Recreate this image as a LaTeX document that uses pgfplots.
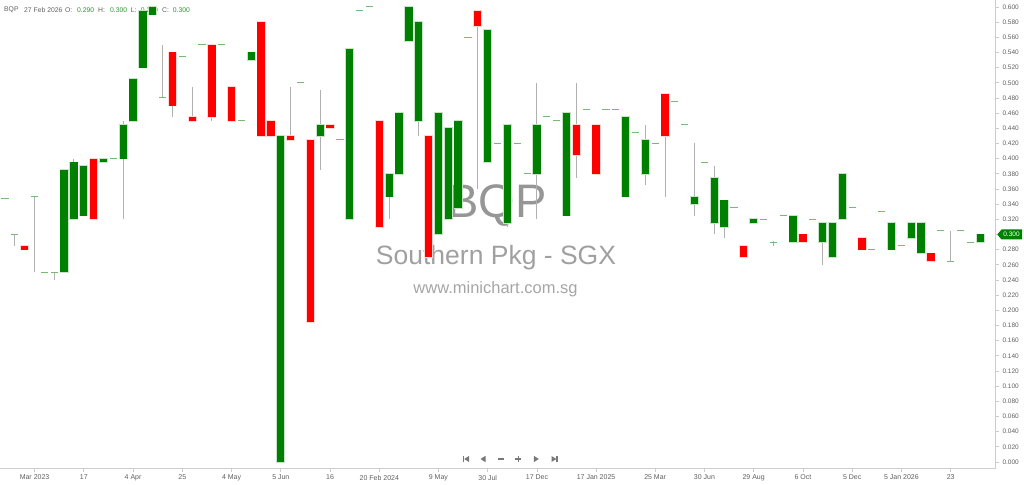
\documentclass[border=0pt]{standalone}
\usepackage{fontspec}
\setmainfont{Liberation Sans}
\usepackage{pgfplots}
\usepackage{pgfplotstable}
\pgfplotsset{compat=1.18}
\definecolor{upgreen}{RGB}{0,128,0}
\definecolor{upedge}{RGB}{200,228,200}
\definecolor{downred}{RGB}{255,0,0}
\definecolor{downedge}{RGB}{255,215,215}
\definecolor{wickgray}{RGB}{176,176,176}
\definecolor{dojigreen}{RGB}{120,185,120}
\definecolor{valgreen}{RGB}{40,150,40}
\definecolor{labgray}{RGB}{95,95,95}
\definecolor{axgray}{RGB}{205,205,205}
\definecolor{wm1}{RGB}{150,150,150}
\definecolor{wm2}{RGB}{160,160,160}
\definecolor{wm3}{RGB}{165,165,165}
\definecolor{navgray}{RGB}{120,120,120}

\pgfplotstableread{
i o h l c
6 0.25 0.385 0.25 0.385
7 0.32 0.40 0.32 0.395
8 0.325 0.39 0.325 0.39
10 0.395 0.40 0.395 0.40
12 0.40 0.45 0.32 0.445
13 0.45 0.505 0.45 0.505
14 0.52 0.595 0.52 0.595
15 0.59 0.60 0.59 0.60
25 0.53 0.54 0.53 0.54
28 0.0 0.43 0.0 0.43
32 0.43 0.49 0.385 0.445
35 0.32 0.545 0.32 0.545
39 0.35 0.38 0.32 0.38
40 0.38 0.46 0.38 0.46
41 0.555 0.60 0.555 0.60
42 0.45 0.58 0.43 0.58
44 0.30 0.46 0.30 0.46
45 0.32 0.44 0.32 0.44
46 0.335 0.45 0.335 0.45
49 0.395 0.57 0.395 0.57
51 0.315 0.445 0.31 0.445
54 0.38 0.50 0.32 0.445
57 0.325 0.46 0.325 0.46
63 0.35 0.455 0.35 0.455
65 0.38 0.445 0.365 0.425
70 0.34 0.42 0.325 0.35
72 0.315 0.39 0.30 0.375
73 0.31 0.345 0.295 0.345
76 0.315 0.32 0.315 0.32
80 0.29 0.325 0.29 0.325
83 0.29 0.315 0.26 0.315
84 0.27 0.315 0.27 0.315
85 0.32 0.38 0.32 0.38
90 0.28 0.315 0.28 0.315
92 0.295 0.315 0.295 0.315
93 0.275 0.315 0.275 0.315
99 0.29 0.30 0.29 0.30
}\up

\pgfplotstableread{
i o h l c
2 0.285 0.285 0.28 0.28
9 0.40 0.40 0.32 0.32
17 0.54 0.54 0.455 0.47
19 0.455 0.495 0.45 0.45
21 0.55 0.55 0.45 0.455
23 0.495 0.495 0.45 0.45
26 0.58 0.58 0.43 0.43
27 0.45 0.45 0.43 0.43
29 0.43 0.495 0.425 0.425
31 0.425 0.425 0.185 0.185
33 0.445 0.445 0.44 0.44
38 0.45 0.45 0.31 0.31
43 0.43 0.43 0.27 0.27
48 0.595 0.595 0.36 0.575
58 0.445 0.50 0.375 0.405
60 0.445 0.445 0.38 0.38
67 0.485 0.485 0.35 0.43
75 0.285 0.285 0.27 0.27
81 0.30 0.30 0.29 0.29
87 0.295 0.295 0.28 0.28
94 0.275 0.275 0.265 0.265
}\down

\pgfplotstableread{
i o h l c
0 0.348 0.348 0.348 0.348
1 0.30 0.30 0.285 0.30
3 0.35 0.35 0.25 0.35
4 0.25 0.25 0.25 0.25
5 0.25 0.25 0.24 0.25
11 0.40 0.40 0.40 0.40
16 0.48 0.55 0.48 0.48
18 0.535 0.535 0.535 0.535
20 0.55 0.55 0.55 0.55
22 0.55 0.55 0.55 0.55
24 0.45 0.45 0.45 0.45
30 0.50 0.50 0.50 0.50
34 0.425 0.425 0.425 0.425
36 0.595 0.595 0.595 0.595
37 0.60 0.60 0.60 0.60
47 0.56 0.56 0.56 0.56
50 0.42 0.42 0.42 0.42
52 0.42 0.42 0.42 0.42
53 0.38 0.38 0.38 0.38
55 0.455 0.455 0.455 0.455
56 0.45 0.45 0.45 0.45
59 0.465 0.465 0.465 0.465
61 0.465 0.465 0.465 0.465
62 0.465 0.465 0.465 0.465
64 0.435 0.435 0.435 0.435
66 0.42 0.42 0.42 0.42
68 0.475 0.475 0.475 0.475
69 0.445 0.445 0.445 0.445
71 0.395 0.395 0.395 0.395
74 0.335 0.335 0.335 0.335
77 0.32 0.32 0.32 0.32
78 0.29 0.292 0.285 0.29
79 0.325 0.325 0.325 0.325
82 0.32 0.32 0.32 0.32
86 0.335 0.335 0.335 0.335
88 0.28 0.28 0.28 0.28
89 0.33 0.33 0.33 0.33
91 0.285 0.285 0.285 0.285
95 0.305 0.305 0.305 0.305
96 0.265 0.305 0.265 0.265
97 0.305 0.305 0.305 0.305
98 0.29 0.29 0.29 0.29
}\flat

\pgfplotsset{
  wick/.style={draw=none, mark=none, forget plot,
    error bars/y dir=both, error bars/y explicit, error bars/error mark=none,
    error bars/error bar style={line width=1pt, draw=wickgray, solid}},
  body/.style 2 args={draw=none, mark=none, forget plot,
    error bars/y dir=both, error bars/y explicit, error bars/error mark=none,
    error bars/error bar style={line width=#2, draw=#1, solid, line cap=butt}},
}

\begin{document}
\begin{tikzpicture}
\path[use as bounding box] (0,0) rectangle (1024pt,484pt);
% watermark (behind candles)
\node[anchor=base, text=wm1, inner sep=0pt, font=\fontsize{47}{47}\selectfont] at (497pt,266pt) {BQP};
\node[anchor=base, text=wm2, inner sep=0pt, font=\fontsize{26.5}{26.5}\selectfont] at (496pt,219pt) {Southern Pkg - SGX};
\node[anchor=base, text=wm3, inner sep=0pt, font=\fontsize{16.5}{16.5}\selectfont] at (495.5pt,190.5pt) {www.minichart.com.sg};
% header
\begin{scope}[every node/.style={anchor=west, inner sep=0pt, font=\fontsize{6.8}{7}\selectfont}]
\node[text=labgray] at (4pt,474pt) {BQP};
\node[text=labgray] at (24pt,474pt) {27 Feb 2026};
\node[text=labgray] at (65pt,474pt) {O:};
\node[text=valgreen] at (77pt,474pt) {0.290};
\node[text=labgray] at (98pt,474pt) {H:};
\node[text=valgreen] at (110pt,474pt) {0.300};
\node[text=labgray] at (130.7pt,474pt) {L:};
\node[text=valgreen] at (140.7pt,474pt) {0.290};
\node[text=labgray] at (162pt,474pt) {C:};
\node[text=valgreen] at (172.7pt,474pt) {0.300};
\end{scope}
\begin{axis}[
  at={(0pt,16pt)}, anchor=south west,
  scale only axis, width=995.5pt, height=468pt,
  xmin=-0.5076, xmax=100.55,
  ymin=-0.0079, ymax=0.6092,
  axis x line*=bottom, axis y line*=right,
  axis line style={draw=axgray, line width=0.8pt},
  tick align=outside, major tick length=3.5pt,
  tick style={draw=axgray, line width=0.8pt},
  xtick={3,8,13,18,23,28,33,38,44,49,54,60,66,71,76,81,86,91,96},
  xticklabels={Mar 2023,17,4 Apr,25,4 May,5 Jun,16,20 Feb 2024,9 May,30 Jul,17 Dec,17 Jan 2025,25 Mar,30 Jun,29 Aug,6 Oct,5 Dec,5 Jan 2026,23},
  xticklabel style={font=\fontsize{7}{7}\selectfont, text=labgray},
  ytick={0,0.02,...,0.61},
  yticklabel style={font=\fontsize{6.5}{7}\selectfont, text=labgray,
    /pgf/number format/.cd, fixed, fixed zerofill, precision=3, assume math mode=true},
  scaled y ticks=false,
  clip=true,
]
% wicks
\addplot[wick] table[x=i, y expr={(\thisrow{h}+\thisrow{l})/2}, y error expr={(\thisrow{h}-\thisrow{l})/2}] {\flat};
\addplot[wick] table[x=i, y expr={(\thisrow{h}+\thisrow{l})/2}, y error expr={(\thisrow{h}-\thisrow{l})/2}] {\up};
\addplot[wick] table[x=i, y expr={(\thisrow{h}+\thisrow{l})/2}, y error expr={(\thisrow{h}-\thisrow{l})/2}] {\down};
% body edges
\addplot[body={upedge}{9pt}] table[x=i, y expr={(\thisrow{o}+\thisrow{c})/2}, y error expr={abs(\thisrow{c}-\thisrow{o})/2+0.0011}] {\up};
\addplot[body={downedge}{9pt}] table[x=i, y expr={(\thisrow{o}+\thisrow{c})/2}, y error expr={abs(\thisrow{c}-\thisrow{o})/2+0.0011}] {\down};
% bodies
\addplot[body={upgreen}{7.3pt}] table[x=i, y expr={(\thisrow{o}+\thisrow{c})/2}, y error expr={abs(\thisrow{c}-\thisrow{o})/2}] {\up};
\addplot[body={downred}{7.3pt}] table[x=i, y expr={(\thisrow{o}+\thisrow{c})/2}, y error expr={abs(\thisrow{c}-\thisrow{o})/2}] {\down};
% doji dashes
\addplot[only marks, mark=-, mark size=3.6pt, mark options={draw=dojigreen, line width=1pt}, forget plot] table[x=i, y=c] {\flat};
\end{axis}
% price tag
\fill[upgreen] (997.3pt,249.5pt) -- (1001.5pt,254.5pt) -- (1022pt,254.5pt) -- (1022pt,244.5pt) -- (1001.5pt,244.5pt) -- cycle;
\node[text=white, inner sep=0pt, font=\fontsize{6.5}{7}\selectfont] at (1011.5pt,249.5pt) {0.300};
% navigation icons
\begin{scope}[navgray]
\fill (463pt,22pt) rectangle (464.2pt,28pt);
\fill (464.2pt,25pt) -- (469pt,28pt) -- (469pt,22pt) -- cycle;
\fill (480.5pt,25pt) -- (485.5pt,28.2pt) -- (485.5pt,21.8pt) -- cycle;
\fill (498pt,24.4pt) rectangle (504pt,25.6pt);
\fill (515.3pt,24.4pt) rectangle (521.3pt,25.6pt);
\fill (517.7pt,22pt) rectangle (518.9pt,28pt);
\fill (538.8pt,25pt) -- (533.8pt,28.2pt) -- (533.8pt,21.8pt) -- cycle;
\fill (551.5pt,28pt) -- (556.3pt,25pt) -- (551.5pt,22pt) -- cycle;
\fill (556.3pt,22pt) rectangle (557.5pt,28pt);
\end{scope}
\end{tikzpicture}
\end{document}
